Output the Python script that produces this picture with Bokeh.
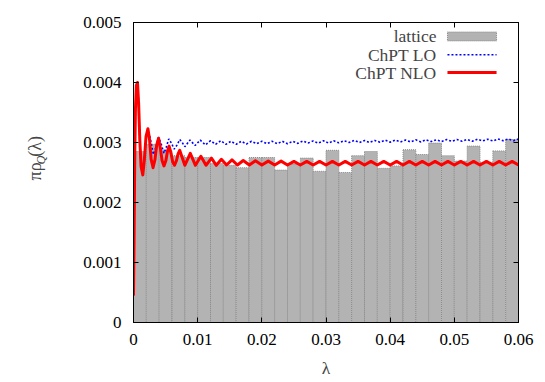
import math
from bokeh.plotting import figure
from bokeh.layouts import row
from bokeh.models import Range1d, LinearAxis, FixedTicker, Label
from bokeh.embed import file_html
from bokeh.resources import INLINE

MILLI = 1e-3
SERIF = "Liberation Serif"

# ---- data (lambda and pi*rho in units of 1e-3) ----
bin_width = 2.0
bin_centers = [1, 3, 5, 7, 9, 11, 13, 15, 17, 19, 21, 23, 25, 27, 29,
               31, 33, 35, 37, 39, 41, 43, 45, 47, 49, 51, 53, 55, 57, 59]
lattice = [2.85, 2.97, 2.87, 2.78, 2.75, 2.75, 2.65, 2.62, 2.58, 2.75,
           2.75, 2.54, 2.64, 2.74, 2.52, 2.87, 2.50, 2.78, 2.85, 2.57,
           2.61, 2.88, 2.80, 2.99, 2.78, 2.69, 2.94, 2.67, 2.86, 3.05]

lo_x = [0.0, 0.08, 0.18, 0.30, 0.45, 0.62, 0.80, 0.98, 1.18, 1.45, 1.70, 1.95,
        2.25, 2.65, 3.1, 3.5, 3.9, 4.3, 4.75, 5.1, 5.5, 5.9, 6.35, 6.8, 7.2,
        7.6, 8.0, 8.8, 9.6, 10.4, 11.2, 12.0, 12.8, 13.6, 14.4, 15.2, 16.0,
        16.8, 17.6, 18.4, 19.2, 20.0, 20.8, 21.6, 22.4, 23.2, 24.0, 24.8,
        25.6, 26.4, 27.2, 28.0, 28.8, 29.6, 30.4, 31.2, 32.0, 32.8, 33.6,
        34.4, 35.2, 36.0, 36.8, 37.6, 38.4, 39.2, 40.0, 40.8, 41.6, 42.4,
        43.2, 44.0, 44.8, 45.6, 46.4, 47.2, 48.0, 48.8, 49.6, 50.4, 51.2,
        52.0, 52.8, 53.6, 54.4, 55.2, 56.0, 56.8, 57.6, 58.4, 59.2, 60.0]
lo_y = [0.45, 1.30, 2.60, 3.55, 3.95, 4.00, 3.65, 3.05, 2.60, 2.46, 2.72, 3.10,
        3.23, 3.05, 2.80, 2.92, 3.09, 2.98, 2.82, 2.92, 3.06, 2.99, 2.89, 2.96,
        3.05, 3.00, 2.93, 3.04, 2.95, 3.04, 2.96, 3.03, 2.97, 3.03, 2.97, 3.02,
        2.97, 3.02, 2.975, 3.02, 2.98, 3.02, 2.98, 3.02, 2.98, 3.02, 2.98,
        3.02, 2.985, 3.025, 2.99, 3.025, 2.99, 3.03, 2.99, 3.03, 2.995, 3.03,
        3.00, 3.035, 3.00, 3.035, 3.00, 3.035, 3.005, 3.04, 3.005, 3.04, 3.01,
        3.04, 3.01, 3.045, 3.01, 3.045, 3.015, 3.045, 3.015, 3.05, 3.02, 3.05,
        3.02, 3.05, 3.02, 3.055, 3.025, 3.055, 3.025, 3.06, 3.03, 3.06, 3.03,
        3.06]

nlo_x = [0.0, 0.08, 0.18, 0.30, 0.45, 0.62, 0.80, 0.98, 1.18, 1.45, 1.70, 1.95,
         2.25, 2.50, 2.75, 3.05, 3.35, 3.60, 3.90, 4.20, 4.45, 4.75, 5.05, 5.30,
         5.55, 5.85, 6.10, 6.40, 6.70, 6.95, 7.20, 8.0, 8.85, 9.65, 10.5, 11.3,
         12.15, 12.9, 13.7, 14.5, 15.35, 16.2, 17.1, 18.05, 19.0, 20.0, 21.0,
         22.0, 23.0, 24.0, 25.0, 26.0, 27.0, 28.0, 29.0, 30.0, 31.0, 32.0, 33.0,
         34.0, 35.0, 36.0, 37.0, 38.0, 39.0, 40.0, 41.0, 42.0, 43.0, 44.0, 45.0,
         46.0, 47.0, 48.0, 49.0, 50.0, 51.0, 52.0, 53.0, 54.0, 55.0, 56.0, 57.0,
         58.0, 59.0, 60.0]
nlo_y = [0.45, 1.30, 2.60, 3.55, 3.95, 4.00, 3.65, 3.05, 2.60, 2.46, 2.72, 3.10,
         3.23, 3.05, 2.72, 2.58, 2.72, 2.95, 3.07, 2.90, 2.70, 2.61, 2.70, 2.86,
         2.94, 2.82, 2.68, 2.62, 2.70, 2.81, 2.87, 2.62, 2.82, 2.62, 2.77, 2.62,
         2.74, 2.62, 2.72, 2.625, 2.71, 2.625, 2.70, 2.625, 2.695, 2.625, 2.69,
         2.625, 2.69, 2.625, 2.685, 2.625, 2.685, 2.625, 2.685, 2.625, 2.685,
         2.625, 2.685, 2.625, 2.685, 2.625, 2.685, 2.625, 2.685, 2.625, 2.685,
         2.625, 2.685, 2.625, 2.685, 2.625, 2.685, 2.625, 2.685, 2.625, 2.685,
         2.625, 2.685, 2.625, 2.685, 2.625, 2.685, 2.625, 2.685, 2.625]

x_ticks = [0.0, 0.01, 0.02, 0.03, 0.04, 0.05, 0.06]
x_tick_labels = ["0", "0.01", "0.02", "0.03", "0.04", "0.05", "0.06"]
y_ticks = [0.0, 0.001, 0.002, 0.003, 0.004, 0.005]
y_tick_labels = ["0", "0.001", "0.002", "0.003", "0.004", "0.005"]
legend_labels = ["lattice", "ChPT LO", "ChPT NLO"]
x_label = "λ"
y_label_parts = ["πρ", "Q", "(λ)"]

X0, X1 = 0.0, 0.06
Y0, Y1 = 0.0, 0.005
H = 380
LW = 50  # width of the strip holding the rotated y-axis title

p = figure(width=488, height=H, x_range=Range1d(X0, X1), y_range=Range1d(Y0, Y1),
           output_backend="svg", toolbar_location=None,
           min_border_left=83, min_border_right=20, min_border_top=22,
           min_border_bottom=57)
p.xgrid.visible = False
p.ygrid.visible = False
p.outline_line_color = "black"
p.outline_line_width = 1
p.background_fill_color = "white"
p.border_fill_color = "white"

# bars
p.vbar(x=[c * MILLI for c in bin_centers], width=bin_width * MILLI,
       top=[h * MILLI for h in lattice], bottom=0,
       fill_color="#b3b3b3", line_color="#8a8a8a", line_dash="1 1", line_width=1)

# curves
p.line([v * MILLI for v in lo_x], [v * MILLI for v in lo_y],
       line_color="#0000ff", line_width=1.6, line_dash="2 2")
p.line([v * MILLI for v in nlo_x], [v * MILLI for v in nlo_y],
       line_color="#ff0000", line_width=3, line_join="round")

def style_axis(ax, ticks, labels, show):
    ax.ticker = FixedTicker(ticks=ticks)
    ax.major_label_overrides = {t: (l if show else "") for t, l in zip(ticks, labels)}
    ax.major_tick_in = 5
    ax.major_tick_out = 0
    ax.minor_tick_in = 0
    ax.minor_tick_out = 0
    ax.axis_line_color = "black"
    ax.major_tick_line_color = "black"
    ax.major_label_text_font = SERIF
    ax.major_label_text_font_size = "17px"
    ax.major_label_text_color = "black"

style_axis(p.xaxis[0], x_ticks, x_tick_labels, True)
p.xaxis[0].major_label_standoff = 11
p.xaxis[0].axis_label = x_label
p.xaxis[0].axis_label_text_font = SERIF
p.xaxis[0].axis_label_text_font_size = "17.5px"
p.xaxis[0].axis_label_text_font_style = "normal"
p.xaxis[0].axis_label_standoff = 10
style_axis(p.yaxis[0], y_ticks, y_tick_labels, True)
p.yaxis[0].major_label_standoff = 12

top_ax = LinearAxis()
style_axis(top_ax, x_ticks, x_tick_labels, False)
top_ax.major_label_standoff = 0
top_ax.major_label_text_font_size = "1px"
p.add_layout(top_ax, "above")
right_ax = LinearAxis()
style_axis(right_ax, y_ticks, y_tick_labels, False)
right_ax.major_label_standoff = 0
right_ax.major_label_text_font_size = "1px"
p.add_layout(right_ax, "right")

# legend (gnuplot style: label right-aligned, sample on the right)
xw = X1 - X0
yh = Y1 - Y0
tx = X0 + 0.787 * xw
sx0 = X0 + 0.8155 * xw
sx1 = X0 + 0.943 * xw
rows = [Y0 + 0.9535 * yh, Y0 + 0.8927 * yh, Y0 + 0.833 * yh]
for lab, ry in zip(legend_labels, rows):
    p.add_layout(Label(x=tx, y=ry, text=lab, text_font=SERIF,
                       text_font_size="17.5px", text_align="right",
                       text_baseline="middle"))
p.quad(left=[sx0], right=[sx1], bottom=[rows[0] - 0.0149 * yh], top=[rows[0] + 0.0149 * yh],
       fill_color="#b3b3b3", line_color="#8a8a8a", line_dash="1 1")
p.line([sx0, sx1], [rows[1], rows[1]], line_color="#0000ff", line_width=1.6, line_dash="2 2")
p.line([sx0, sx1], [rows[2], rows[2]], line_color="#ff0000", line_width=3)

# strip on the left with the rotated y-axis title (pixel-like ranges, y downward)
ly = figure(width=LW, height=H, x_range=Range1d(0, LW), y_range=Range1d(H, 0),
            output_backend="svg", toolbar_location=None, min_border=0,
            min_border_left=0, min_border_right=0, min_border_top=0,
            min_border_bottom=0, x_axis_location=None, y_axis_location=None)
ly.xgrid.visible = False
ly.ygrid.visible = False
ly.outline_line_color = None
ly.background_fill_color = "white"
ly.border_fill_color = "white"
rot = math.pi / 2
ly.add_layout(Label(x=34, y=200, text=y_label_parts[0], angle=rot,
                    text_font=SERIF, text_font_size="18px",
                    text_align="left", text_baseline="middle"))
ly.add_layout(Label(x=40.5, y=180, text=y_label_parts[1], angle=rot,
                    text_font=SERIF, text_font_size="12.5px", text_font_style="italic",
                    text_align="left", text_baseline="middle"))
ly.add_layout(Label(x=34, y=170, text=y_label_parts[2], angle=rot,
                    text_font=SERIF, text_font_size="18px",
                    text_align="left", text_baseline="middle"))

layout = row(ly, p, spacing=0)
open("out.html", "w").write(file_html(layout, INLINE))
